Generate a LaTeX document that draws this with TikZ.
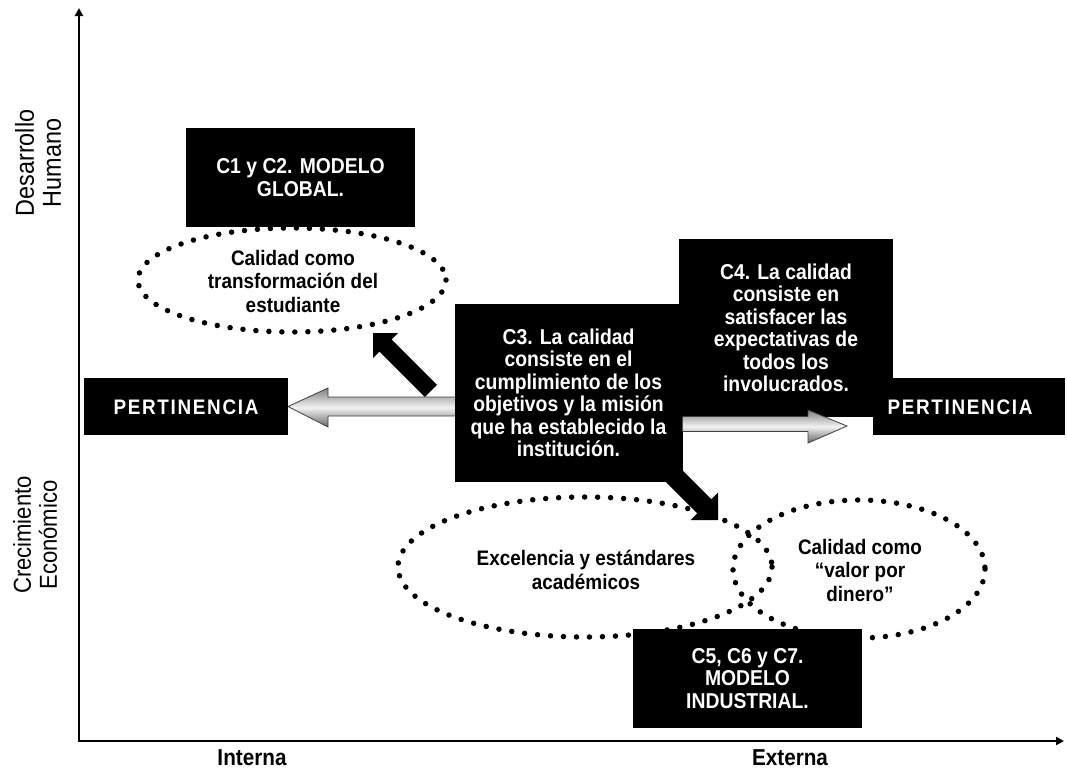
\documentclass[tikz,border=0pt]{standalone}
\usepackage{fontspec}
\setmainfont[FakeStretch=0.9]{Liberation Sans}
\usetikzlibrary{arrows.meta}
\tikzset{
  boxnode/.style={fill=black, text=white, inner sep=0pt, align=center,
    font=\bfseries\fontsize{21.5}{22.5}\selectfont},
  elltext/.style={text=black, inner sep=0pt, align=center,
    font=\bfseries\fontsize{21}{23.5}\selectfont},
  axlabel/.style={inner sep=0pt, align=center, rotate=90,
    font=\fontsize{24.5}{26}\selectfont},
  xlabel/.style={inner sep=0pt, font=\bfseries\fontsize{23}{24}\selectfont},
  pertext/.style={text=white, inner sep=0pt,
    font=\bfseries\fontsize{21}{22}\selectfont\addfontfeature{LetterSpace=8}},
  dotted ell/.style={draw=black, line width=5.5pt, line cap=round,
    dash pattern=on 0pt off 13pt},
  axisline/.style={line width=2.4pt, -{Triangle[length=8pt,width=8pt]}},
  grayarrow/.style={draw=black!75, line width=0.8pt, top color=black!50,
    bottom color=black!60, middle color=black!5},
  blackarrow/.style={fill=black, draw=none}
}
\begin{document}
\begin{tikzpicture}[x=1pt, y=-1pt]
\useasboundingbox (0,0) rectangle (1067,772);
\fill[white] (0,0) rectangle (1067,772);

% axes
\coordinate (origin) at (79,741);
\coordinate (ytop) at (79,8);
\coordinate (xend) at (1064,741);
\draw[axisline] (origin) -- (ytop);
\draw[axisline] ([xshift=-1.2pt]origin) -- (xend);

% axis labels
\node[axlabel, font=\fontsize{26}{27}\selectfont] (dh) at (38,163) {Desarrollo\\Humano};
\node[axlabel] (ce) at (35,535) {Crecimiento\\Económico};
\node[xlabel] (int) at (252,758) {Interna};
\node[xlabel] (ext) at (790,758) {Externa};

% dotted ellipses
\draw[dotted ell] (292,280) ellipse [x radius=154, y radius=52];
\draw[dotted ell] (585,567) ellipse [x radius=187, y radius=70];
\draw[dotted ell] (859,569) ellipse [x radius=126, y radius=69];

\node[elltext] (e1) at (293,281) {Calidad como\\transformación del\\estudiante};
\node[elltext] (e2) at (586,570) {Excelencia y estándares\\académicos};
\node[elltext] (e3) at (860,570) {Calidad como\\“valor por\\dinero”};

% black block arrows
\begin{scope}[shift={(373,333)}, rotate=135]
  \fill[blackarrow] (0,0) -- (-17.7,17.7) -- (-17.7,8.5) -- (-82,8.5)
    -- (-82,-8.5) -- (-17.7,-8.5) -- (-17.7,-17.7) -- cycle;
\end{scope}
\begin{scope}[shift={(718,520)}, rotate=-45]
  \fill[blackarrow] (0,0) -- (-19.4,19.4) -- (-19.4,10) -- (-95,10)
    -- (-95,-10) -- (-19.4,-10) -- (-19.4,-19.4) -- cycle;
\end{scope}

% gray block arrows
\draw[grayarrow] (470,397) -- (328,397) -- (328,388) -- (288,406.5)
  -- (328,427) -- (328,416) -- (470,416) -- cycle;

% boxes
\node[boxnode, minimum width=229, minimum height=99] (c1) at (300.5,177.5)
  {C1 y C2. MODELO\\GLOBAL.};
\node[boxnode, minimum width=204, minimum height=57] (pl) at (186,406.5) {};
\node[pertext] (plt) at (186,407) {PERTINENCIA};
\node[boxnode, minimum width=214, minimum height=178] (c4) at (786,328)
  {C4. La calidad\\consiste en\\satisfacer las\\expectativas de\\todos los\\involucrados.};
\node[boxnode, minimum width=192, minimum height=57] (pr) at (969,406.5) {};
\node[pertext] (prt) at (960,407) {PERTINENCIA};
\node[boxnode, minimum width=228, minimum height=178] (c3) at (568.5,393)
  {C3. La calidad\\consiste en el\\cumplimiento de los\\objetivos y la misión\\que ha establecido la\\institución.};
\node[boxnode, minimum width=229, minimum height=99] (c5) at (747.5,678.5)
  {C5, C6 y C7.\\MODELO\\INDUSTRIAL.};

% right gray arrow, over the C4 box
\draw[grayarrow] (682.5,416.5) -- (808,416.5) -- (808,410) -- (847,426)
  -- (808,443) -- (808,431.5) -- (682.5,431.5);
\end{tikzpicture}
\end{document}
